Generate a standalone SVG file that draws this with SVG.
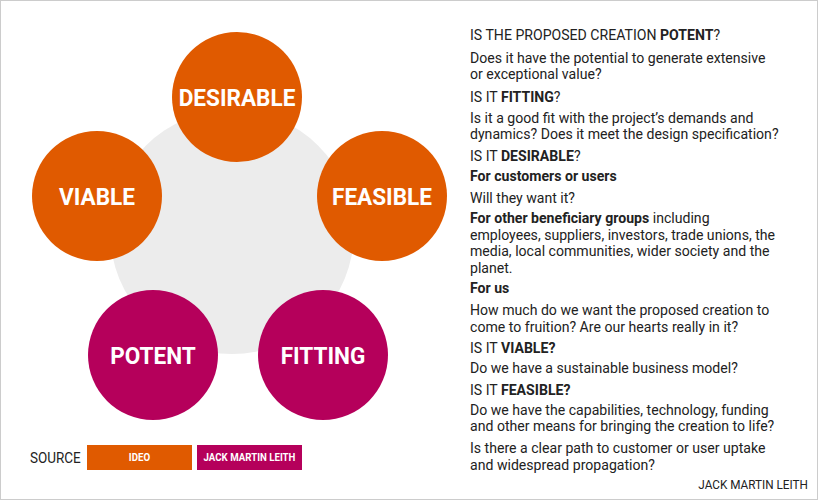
<svg xmlns="http://www.w3.org/2000/svg" width="818" height="500" viewBox="0 0 818 500">
<style>
.t{font-family:Roboto,"Liberation Sans",sans-serif;font-size:15px;fill:#222}
.b{font-weight:bold}
.cl{font-family:Roboto,"Liberation Sans",sans-serif;font-weight:bold;font-size:23.5px;fill:#fff;text-anchor:middle}
.o{fill:#E05A00}.m{fill:#B5005B}
.lg{font-family:Roboto,"Liberation Sans",sans-serif;font-weight:bold;font-size:11px;fill:#fff;text-anchor:middle}
</style>
<rect x="0.5" y="0.5" width="817" height="499" fill="#fff" stroke="#ccc"/>
<circle cx="232" cy="232" r="122" fill="#ececec"/>
<g id="connectors"/>
<g id="desirable"><circle class="o" cx="237" cy="97" r="65"/><text class="cl" x="237" y="106" transform="translate(237,0) scale(0.96,1) translate(-237,0)">DESIRABLE</text></g>
<g id="feasible"><circle class="o" cx="382" cy="196" r="65"/><text class="cl" x="382" y="205" transform="translate(382,0) scale(0.96,1) translate(-382,0)">FEASIBLE</text></g>
<g id="viable"><circle class="o" cx="97" cy="196" r="65"/><text class="cl" x="97" y="205" transform="translate(97,0) scale(0.96,1) translate(-97,0)">VIABLE</text></g>
<g id="potent"><circle class="m" cx="153" cy="355" r="65"/><text class="cl" x="153" y="364" transform="translate(153,0) scale(0.96,1) translate(-153,0)">POTENT</text></g>
<g id="fitting"><circle class="m" cx="323" cy="355" r="65"/><text class="cl" x="323" y="364" transform="translate(323,0) scale(0.96,1) translate(-323,0)">FITTING</text></g>
<g id="legend">
<text class="t" x="30" y="463" transform="translate(30,0) scale(0.9,1) translate(-30,0)">SOURCE</text>
<rect class="o" x="87" y="445" width="105" height="25"/><text class="lg" x="139.5" y="461" transform="translate(139.5,0) scale(0.88,1) translate(-139.5,0)">IDEO</text>
<rect class="m" x="197" y="445" width="105" height="25"/><text class="lg" x="249.5" y="461" transform="translate(249.5,0) scale(0.88,1) translate(-249.5,0)">JACK MARTIN LEITH</text>
</g>
<g id="text" transform="translate(470,0) scale(0.94,1)">
<text class="t" x="0" y="40">IS THE PROPOSED CREATION <tspan class="b">POTENT</tspan>?</text>
<text class="t" x="0" y="63">Does it have the potential to generate extensive</text>
<text class="t" x="0" y="79">or exceptional value?</text>
<text class="t" x="0" y="102">IS IT <tspan class="b">FITTING</tspan>?</text>
<text class="t" x="0" y="123">Is it a good fit with the project’s demands and</text>
<text class="t" x="0" y="139">dynamics? Does it meet the design specification?</text>
<text class="t" x="0" y="161">IS IT <tspan class="b">DESIRABLE</tspan>?</text>
<text class="t b" x="0" y="181">For customers or users</text>
<text class="t" x="0" y="203">Will they want it?</text>
<text class="t" x="0" y="223"><tspan class="b">For other beneficiary groups</tspan> including</text>
<text class="t" x="0" y="240">employees, suppliers, investors, trade unions, the</text>
<text class="t" x="0" y="256">media, local communities, wider society and the</text>
<text class="t" x="0" y="273">planet.</text>
<text class="t b" x="0" y="293">For us</text>
<text class="t" x="0" y="315">How much do we want the proposed creation to</text>
<text class="t" x="0" y="332">come to fruition? Are our hearts really in it?</text>
<text class="t" x="0" y="353">IS IT <tspan class="b">VIABLE?</tspan></text>
<text class="t" x="0" y="373">Do we have a sustainable business model?</text>
<text class="t" x="0" y="395">IS IT <tspan class="b">FEASIBLE?</tspan></text>
<text class="t" x="0" y="415">Do we have the capabilities, technology, funding</text>
<text class="t" x="0" y="431">and other means for bringing the creation to life?</text>
<text class="t" x="0" y="453">Is there a clear path to customer or user uptake</text>
<text class="t" x="0" y="470">and widespread propagation?</text>
</g>
<text class="t" style="font-size:12px" x="808" y="489" text-anchor="end" transform="translate(808,0) scale(0.98,1) translate(-808,0)">JACK MARTIN LEITH</text>
</svg>
